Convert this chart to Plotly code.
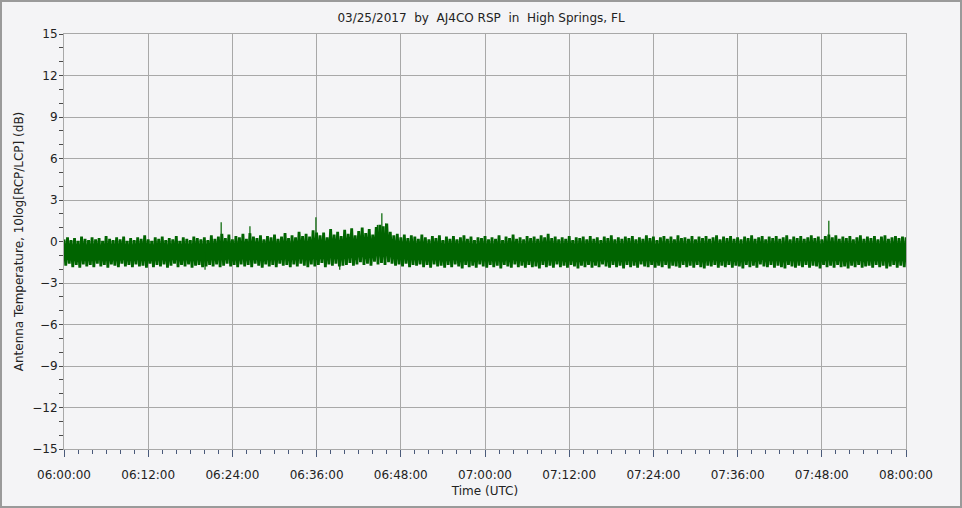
import pandas as pd
import plotly.graph_objects as go

# ---- data ----
TITLE = "03/25/2017  by  AJ4CO RSP  in  High Springs, FL"
start = "2017-03-25 06:00:00"
n_bins = 241  # 30-second bins 06:00:00 .. 08:00:00
times = pd.date_range(start, periods=n_bins, freq="30s")

upper_db = [
    0.15, 0.30, 0.10, 0.25, 0.05, 0.35, 0.20, 0.10, 0.30, 0.15,
    0.25, 0.05, 0.40, 0.20, 0.10, 0.30, 0.15, 0.35, 0.05, 0.25,
    0.10, 0.30, 0.20, 0.45, 0.15, 0.05, 0.30, 0.20, 0.35, 0.10,
    0.25, 0.15, 0.40, 0.05, 0.30, 0.20, 0.10, 0.35, 0.25, 0.15,
    0.30, 0.10, 0.45, 0.20, 0.35, 0.55, 0.25, 0.50, 0.15, 0.40,
    0.30, 0.55, 0.20, 0.60, 0.35, 0.25, 0.45, 0.15, 0.40, 0.30,
    0.50, 0.20, 0.35, 0.60, 0.25, 0.45, 0.30, 0.70, 0.40, 0.55,
    0.35, 0.80, 0.65, 0.45, 0.65, 0.30, 0.90, 0.50, 0.70, 0.40,
    0.85, 0.55, 0.95, 0.45, 0.75, 1.00, 0.60, 0.90, 0.50, 1.05,
    1.20, 1.10, 1.30, 0.70, 0.45, 0.55, 0.30, 0.50, 0.25, 0.45,
    0.35, 0.20, 0.50, 0.30, 0.15, 0.40, 0.25, 0.45, 0.10, 0.35,
    0.20, 0.40, 0.15, 0.30, 0.45, 0.20, 0.35, 0.10, 0.30, 0.25,
    0.40, 0.15, 0.30, 0.20, 0.45, 0.10, 0.35, 0.25, 0.50, 0.20,
    0.30, 0.15, 0.40, 0.25, 0.35, 0.20, 0.45, 0.30, 0.55, 0.25,
    0.35, 0.15, 0.30, 0.20, 0.40, 0.10, 0.30, 0.25, 0.35, 0.15,
    0.40, 0.20, 0.30, 0.10, 0.35, 0.25, 0.45, 0.15, 0.30, 0.20,
    0.35, 0.25, 0.40, 0.15, 0.30, 0.20, 0.45, 0.25, 0.35, 0.10,
    0.30, 0.40, 0.20, 0.35, 0.15, 0.45, 0.25, 0.30, 0.20, 0.40,
    0.15, 0.35, 0.25, 0.40, 0.20, 0.30, 0.45, 0.15, 0.35, 0.25,
    0.40, 0.20, 0.30, 0.15, 0.35, 0.25, 0.45, 0.20, 0.30, 0.40,
    0.15, 0.35, 0.25, 0.40, 0.20, 0.30, 0.45, 0.15, 0.35, 0.25,
    0.40, 0.20, 0.30, 0.45, 0.25, 0.35, 0.15, 0.40, 0.50, 0.30,
    0.45, 0.20, 0.35, 0.25, 0.40, 0.15, 0.30, 0.45, 0.20, 0.35,
    0.25, 0.40, 0.15, 0.35, 0.45, 0.20, 0.30, 0.40, 0.25, 0.35,
    0.30,
]

lower_db = [
    -1.75, -1.60, -1.85, -1.70, -1.90, -1.65, -1.80, -1.70, -1.85, -1.60,
    -1.80, -1.70, -1.90, -1.65, -1.75, -1.85, -1.60, -1.80, -1.70, -1.85,
    -1.65, -1.80, -1.75, -1.90, -1.60, -1.85, -1.70, -1.80, -1.65, -1.90,
    -1.75, -1.60, -1.85, -1.70, -1.80, -1.65, -1.90, -1.75, -1.70, -1.85,
    -1.80, -1.70, -1.80, -1.65, -1.85, -1.75, -1.60, -1.80, -1.70, -1.85,
    -1.65, -1.80, -1.70, -1.85, -1.60, -1.75, -1.90, -1.65, -1.80, -1.70,
    -1.85, -1.60, -1.75, -1.70, -1.85, -1.65, -1.80, -1.60, -1.75, -1.85,
    -1.65, -1.80, -1.70, -1.55, -1.85, -1.65, -1.75, -1.60, -1.80, -1.75,
    -1.70, -1.55, -1.75, -1.65, -1.50, -1.70, -1.60, -1.75, -1.45, -1.65,
    -1.55, -1.70, -1.50, -1.60, -1.75, -1.65, -1.80, -1.60, -1.85, -1.70,
    -1.75, -1.65, -1.85, -1.70, -1.90, -1.65, -1.80, -1.75, -1.90, -1.70,
    -1.85, -1.65, -1.80, -1.95, -1.70, -1.85, -1.75, -1.90, -1.65, -1.80,
    -1.90, -1.70, -1.85, -1.75, -1.95, -1.70, -1.80, -1.90, -1.65, -1.85,
    -1.75, -1.90, -1.70, -1.85, -1.80, -1.95, -1.70, -1.85, -1.75, -1.90,
    -1.65, -1.85, -1.75, -1.90, -1.70, -1.80, -1.95, -1.75, -1.85, -1.70,
    -1.90, -1.75, -1.85, -1.65, -1.80, -1.90, -1.70, -1.85, -1.75, -1.95,
    -1.70, -1.85, -1.75, -1.90, -1.65, -1.80, -1.85, -1.70, -1.90, -1.75,
    -1.85, -1.70, -1.95, -1.75, -1.80, -1.90, -1.70, -1.85, -1.75, -1.90,
    -1.70, -1.85, -1.95, -1.75, -1.80, -1.70, -1.90, -1.75, -1.85, -1.70,
    -1.90, -1.75, -1.80, -1.95, -1.70, -1.85, -1.75, -1.90, -1.65, -1.80,
    -1.85, -1.70, -1.90, -1.75, -1.85, -1.95, -1.70, -1.80, -1.90, -1.75,
    -1.85, -1.70, -1.90, -1.75, -1.80, -1.95, -1.70, -1.85, -1.75, -1.90,
    -1.70, -1.85, -1.80, -1.95, -1.75, -1.85, -1.70, -1.90, -1.80, -1.75,
    -1.90, -1.70, -1.85, -1.75, -1.95, -1.80, -1.70, -1.90, -1.75, -1.85,
    -1.80,
]

# isolated narrow spikes (time, peak dB)
spike_times = ["2017-03-25 06:20:06", "2017-03-25 06:22:24", "2017-03-25 06:26:30",
               "2017-03-25 06:35:54", "2017-03-25 06:39:18", "2017-03-25 06:44:40",
               "2017-03-25 06:45:18", "2017-03-25 06:45:50", "2017-03-25 07:49:00"]
spike_db = [-2.05, 1.40, 1.10, 1.75, -2.05, 1.20, 2.05, 1.30, 1.50]

y_ticks = [-15, -12, -9, -6, -3, 0, 3, 6, 9, 12, 15]
x_ticks = ["06:00:00", "06:12:00", "06:24:00", "06:36:00", "06:48:00", "07:00:00",
           "07:12:00", "07:24:00", "07:36:00", "07:48:00", "08:00:00"]

# ---- figure ----
GREEN = "#006400"
BG = "#f4f4f6"
GRID = "#a8a8a8"
FONT = "DejaVu Sans"

# noise drawn as a zig-zag between each bin's max and min
zx, zy = [], []
half = pd.Timedelta(seconds=15)
for t, hi, lo in zip(times, upper_db, lower_db):
    zx += [t, t + half]
    zy += [hi, lo]
zx, zy = zx[:-1], zy[:-1]  # end at 08:00:00

fig = go.Figure()
fig.add_trace(go.Scatter(x=zx, y=zy, mode="lines",
                         line=dict(color=GREEN, width=2.8),
                         hoverinfo="skip", showlegend=False))

sx, sy = [], []
for t, v in zip(spike_times, spike_db):
    sx += [t, t, None]
    sy += [-0.8, v, None]
fig.add_trace(go.Scatter(x=sx, y=sy, mode="lines",
                         line=dict(color=GREEN, width=1.2),
                         hoverinfo="skip", showlegend=False))

tickvals_x = [f"2017-03-25 {t}" for t in x_ticks]

ML, MR, MT, MB = 64, 56, 34, 59
W, H = 962, 508
PW, PH = W - ML - MR, H - MT - MB

fig.update_layout(
    width=W, height=H,
    margin=dict(l=ML, r=MR, t=MT, b=MB, autoexpand=False),
    paper_bgcolor=BG, plot_bgcolor=BG,
    font=dict(family=FONT, size=12, color="#222222"),
    title=dict(text=TITLE, x=0.5, xanchor="center", y=1 - 18 / H, yanchor="middle",
               font=dict(family=FONT, size=12, color="#222222")),
    xaxis=dict(range=[tickvals_x[0], tickvals_x[-1]],
               tickvals=tickvals_x, ticktext=x_ticks, automargin=False,
               showgrid=True, gridcolor=GRID, gridwidth=1,
               showline=True, linecolor=GRID, mirror=True,
               ticks="outside", ticklen=7, tickcolor="#4a5a7a",
               ticklabelstandoff=8,
               minor=dict(dtick=120000, ticks="outside", ticklen=4,
                          tickcolor="#4a5a7a", showgrid=False),
               tickfont=dict(family=FONT, size=12),
               title=dict(text="Time (UTC)", standoff=5,
                          font=dict(family=FONT, size=12)),
               zeroline=False),
    yaxis=dict(range=[-15, 15], tickvals=y_ticks, automargin=False,
               showgrid=True, gridcolor=GRID, gridwidth=1,
               showline=True, linecolor=GRID, mirror=True,
               ticks="outside", ticklen=3, tickcolor="#4a4a4a",
               minor=dict(dtick=1, ticks="outside", ticklen=4,
                          tickcolor="#4a4a4a", showgrid=False),
               tickfont=dict(family=FONT, size=12),
               title=dict(text="Antenna Temperature, 10log[RCP/LCP] (dB)", standoff=6,
                          font=dict(family=FONT, size=12)),
               zeroline=False),
)

# outer frame of the image
fig.add_shape(type="rect", xref="paper", yref="paper",
              x0=-(ML - 1) / PW, x1=1 + (MR - 1) / PW,
              y0=-(MB - 1) / PH, y1=1 + (MT - 1) / PH,
              line=dict(color="#9a9a9a", width=2), layer="below")

fig.write_html("out.html", config={"displayModeBar": False},
               post_script="document.body.style.margin='0';")
